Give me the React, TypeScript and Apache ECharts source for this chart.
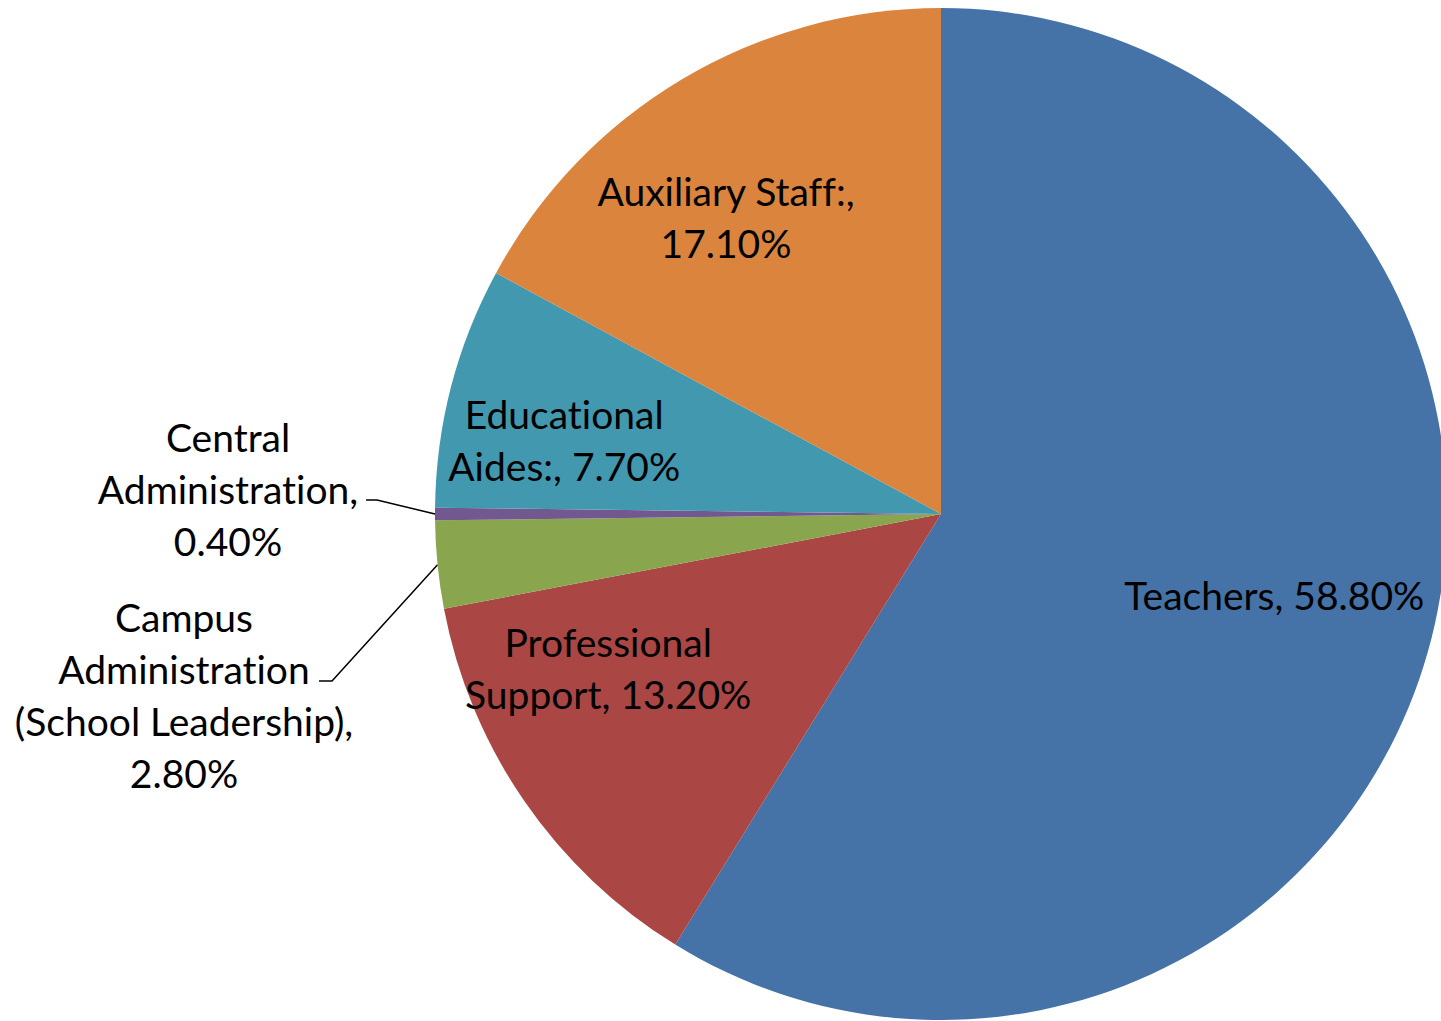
import React, { useEffect, useRef } from 'react';
import * as echarts from 'echarts';

const categories = [
  'Teachers',
  'Professional Support',
  'Campus Administration (School Leadership)',
  'Central Administration',
  'Educational Aides',
  'Auxiliary Staff',
];
const values = [58.8, 13.2, 2.8, 0.4, 7.7, 17.1];
const labelTexts = [
  'Teachers, 58.80%',
  'Professional\nSupport, 13.20%',
  'Campus\nAdministration\n(School Leadership),\n2.80%',
  'Central\nAdministration,\n0.40%',
  'Educational\nAides:, 7.70%',
  'Auxiliary Staff:,\n17.10%',
];
const colors = ['#4572A7', '#AA4643', '#89A54E', '#71588F', '#4198AF', '#DB843D'];

// pie geometry
const CX = 941;
const CY = 514;
const R = 506;
// label placement: inside labels get offsets; outside labels get a target centre and leader elbow
const placement: any[] = [
  { inside: true, dx: 87, dy: 11 },
  { inside: true, dx: -122, dy: 9 },
  { inside: false, x: 184, y: 695, elbow: [332, 681], end: [319, 681] },
  { inside: false, x: 228, y: 489, elbow: [377, 500], end: [366, 500] },
  { inside: true, dx: -129, dy: -10 },
  { inside: true, dx: -84, dy: -77 },
];

export default function App() {
  const ref = useRef<HTMLDivElement>(null);
  useEffect(() => {
    const chart = echarts.init(ref.current!, undefined, { renderer: 'svg' });
    const font = { fontFamily: 'Lato', fontSize: 39, lineHeight: 52, color: '#000' };
    const total = values.reduce((a, b) => a + b, 0);
    // mid angle of each slice (clockwise from top), used for leader-line start on the rim
    const mids: number[] = [];
    let acc = 0;
    values.forEach((v) => {
      mids.push(((acc + v / 2) / total) * Math.PI * 2);
      acc += v;
    });
    chart.setOption({
      animation: false,
      backgroundColor: '#fff',
      series: [
        {
          type: 'pie',
          center: [CX, CY],
          radius: R,
          startAngle: 90,
          clockwise: true,
          avoidLabelOverlap: false,
          itemStyle: { borderWidth: 0 },
          emphasis: { disabled: true },
          data: categories.map((name, i) => ({
            name,
            value: values[i],
            itemStyle: { color: colors[i] },
            label: {
              show: true,
              position: placement[i].inside ? 'inside' : 'outside',
              formatter: labelTexts[i],
              align: 'center',
              ...font,
            },
            labelLine: {
              show: !placement[i].inside,
              length: 20,
              length2: 10,
              lineStyle: { color: '#000', width: 1.5 },
            },
          })),
          labelLayout: (params: any) => {
            const p = placement[params.dataIndex];
            if (p.inside) return { dx: p.dx, dy: p.dy };
            const a = mids[params.dataIndex];
            const start = [CX + R * Math.sin(a), CY - R * Math.cos(a)];
            return {
              x: p.x,
              y: p.y,
              align: 'center',
              verticalAlign: 'middle',
              labelLinePoints: [start, p.elbow, p.end],
            };
          },
        },
      ],
    });
    return () => chart.dispose();
  }, []);
  return (
    <>
      <style>{'.pie-root text { font-variant-ligatures: none; font-feature-settings: "liga" 0; }'}</style>
      <div
        ref={ref}
        className="pie-root"
        style={{ position: 'fixed', left: 0, top: 0, width: 1441, height: 1021 }}
      />
    </>
  );
}
